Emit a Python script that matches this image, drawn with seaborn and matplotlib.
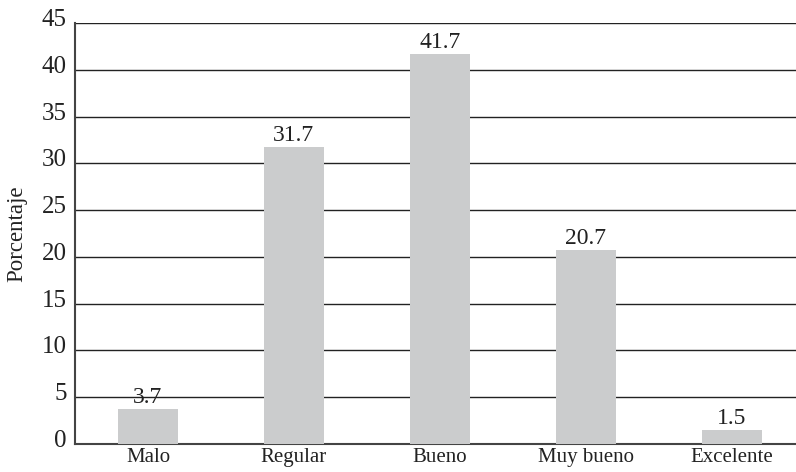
import matplotlib
matplotlib.use("Agg")
import matplotlib.pyplot as plt
import matplotlib.transforms as mtransforms
import seaborn as sns
import pandas as pd

categories = ["Malo", "Regular", "Bueno", "Muy bueno", "Excelente"]
values = [3.7, 31.7, 41.7, 20.7, 1.5]
yticks = [0, 5, 10, 15, 20, 25, 30, 35, 40, 45]

sns.set_theme(style="white")
plt.rcParams['font.family'] = ['Liberation Serif', 'DejaVu Serif']

df = pd.DataFrame({"cat": categories, "val": values})

fig = plt.figure(figsize=(7.96, 4.72), dpi=100)
ax = fig.add_axes([75/796, 28/472, 1 - 75/796, (444-23)/472])

sns.barplot(data=df, x="cat", y="val", color="#cbcccd", width=0.41,
            saturation=1, ax=ax, zorder=3, linewidth=0, edgecolor="none")

ax.set_ylim(0, 45)
ax.set_xlim(-0.5, 4.44)
ax.set_yticks(yticks)
ax.set_yticklabels([str(t) for t in yticks], fontsize=18, color="#222222")
ax.tick_params(axis="x", labelsize=15, colors="#222222", length=0, pad=3)
ax.tick_params(axis="y", length=0, pad=6)
off = mtransforms.ScaledTranslation(0, 3/100, fig.dpi_scale_trans)
for lab in ax.get_yticklabels():
    lab.set_verticalalignment("center")
    lab.set_transform(lab.get_transform() + off)

for t in yticks[1:]:
    ax.axhline(t, color="#222222", lw=1.0, zorder=1)

for i, v in enumerate(values):
    ax.annotate(f"{v}", (i, v), xytext=(0, 4.5), textcoords="offset points",
                ha="center", va="baseline", fontsize=17, color="#222222")

ax.set_xlabel("")
ax.set_ylabel("Porcentaje", fontsize=16.5, color="#222222", labelpad=10)

for s in ["top", "right"]:
    ax.spines[s].set_visible(False)
for s in ["left", "bottom"]:
    ax.spines[s].set_color("#444444")
    ax.spines[s].set_linewidth(1.5)

fig.savefig("out.png", dpi=100)
